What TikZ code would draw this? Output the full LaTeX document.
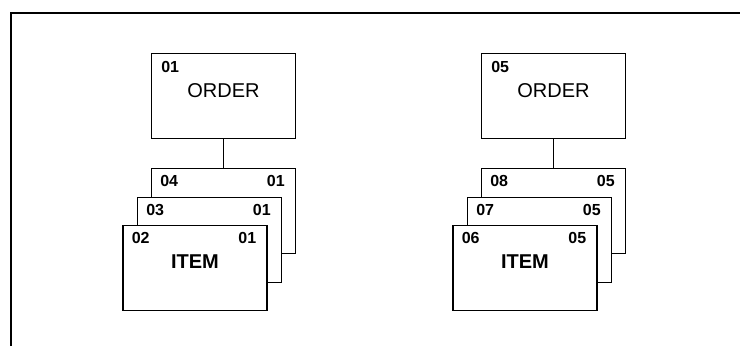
\documentclass[tikz,border=0pt]{standalone}
\usepackage{fontspec}
\setmainfont{Liberation Sans}
\usetikzlibrary{positioning}

\begin{document}
\begin{tikzpicture}[x=1pt, y=1pt, line width=1.6pt, line join=miter,
    box/.style={draw, fill=white, minimum width=144pt, minimum height=85pt, inner sep=0pt, outer sep=0pt},
    num/.style={inner sep=0pt, font=\fontsize{16}{16}\selectfont\bfseries},
    title/.style={inner sep=0pt, font=\fontsize{20}{20}\selectfont}]
  \useasboundingbox (0,0) rectangle (740,-346);
  % Frame (top and left edges only).
  \draw[line width=1.6pt] (11,-346) -- (11,-13) -- (740,-13);

  % Left group: order 01 and its items.
  \node[box] (ordA) at (223.5,-96) {};
  \node[box] (itmA3) at (223.5,-211) {};
  \node[box] (itmA2) at (209.5,-240) {};
  \node[box] (itmA1) at (195,-268) {};
  \node[title, yshift=5pt] at (ordA.center) {ORDER};
  \node[title, yshift=6pt, font=\fontsize{20}{20}\selectfont\bfseries] at (itmA1.center) {ITEM};
  \node[num, below right=7pt and 9pt of ordA.north west] {01};
  \node[num, below right=6pt and 8pt of itmA3.north west] {04};
  \node[num, below left=6pt and 10pt of itmA3.north east] {01};
  \node[num, below right=6pt and 8pt of itmA2.north west] {03};
  \node[num, below left=6pt and 10pt of itmA2.north east] {01};
  \node[num, below right=6pt and 8pt of itmA1.north west] {02};
  \node[num, below left=6pt and 10pt of itmA1.north east] {01};
  \draw (ordA.south) -- (itmA3.north);

  % Right group: order 05 and its items.
  \node[box] (ordB) at (553.5,-96) {};
  \node[box] (itmB3) at (553.5,-211) {};
  \node[box] (itmB2) at (539.5,-240) {};
  \node[box] (itmB1) at (525,-268) {};
  \node[title, yshift=5pt] at (ordB.center) {ORDER};
  \node[title, yshift=6pt, font=\fontsize{20}{20}\selectfont\bfseries] at (itmB1.center) {ITEM};
  \node[num, below right=7pt and 9pt of ordB.north west] {05};
  \node[num, below right=6pt and 8pt of itmB3.north west] {08};
  \node[num, below left=6pt and 10pt of itmB3.north east] {05};
  \node[num, below right=6pt and 8pt of itmB2.north west] {07};
  \node[num, below left=6pt and 10pt of itmB2.north east] {05};
  \node[num, below right=6pt and 8pt of itmB1.north west] {06};
  \node[num, below left=6pt and 10pt of itmB1.north east] {05};
  \draw (ordB.south) -- (itmB3.north);
\end{tikzpicture}
\end{document}
